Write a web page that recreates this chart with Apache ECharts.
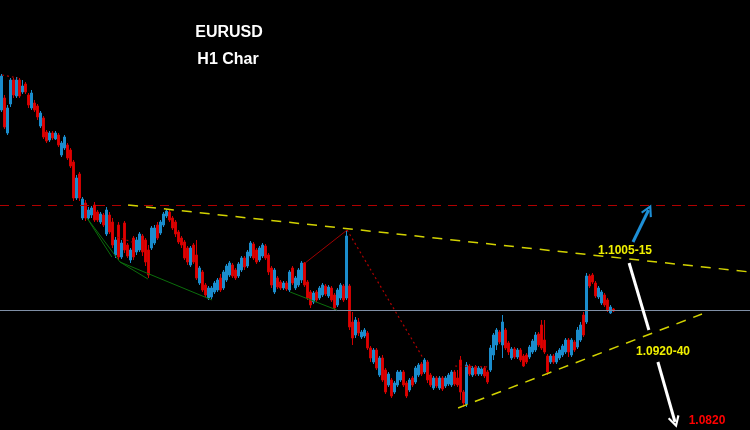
<!DOCTYPE html>
<html>
<head>
<meta charset="utf-8">
<script src="https://cdn.jsdelivr.net/npm/echarts@6/dist/echarts.min.js"></script>
<style>
html,body{margin:0;padding:0;background:#000;}
#chart{width:750px;height:430px;}
</style>
</head>
<body>
<div id="chart"></div>
<script>
// EURUSD H1 candles (price)
const openP = [1.1150,1.1162,1.1127,1.1156,1.1180,1.1164,1.1180,1.1168,1.1176,1.1165,
1.1152,1.1157,1.1154,1.1134,1.1142,1.1128,1.1120,1.1127,1.1121,1.1125,
1.1105,1.1112,1.1115,1.1110,1.1098,1.1062,1.1086,1.1042,1.1057,1.1042,
1.1045,1.1055,1.1048,1.1038,1.1045,1.1026,1.1045,1.1038,1.1005,1.1035,
1.1003,1.1037,1.1015,1.1000,1.1022,1.1008,1.1010,1.1024,1.1020,1.1010,
1.1012,1.1017,1.1035,1.1027,1.1035,1.1044,1.1048,1.1042,1.1038,1.1028,
1.1022,1.1018,1.1012,1.0995,1.1015,1.1005,1.0977,1.0988,1.0975,1.0962,
1.0963,1.0968,1.0970,1.0982,1.0972,1.0980,1.0985,1.0995,1.0990,1.0984,
1.0990,1.1002,1.0994,1.1004,1.1016,1.1010,1.1000,1.1004,1.1014,1.1005,
1.0992,1.0968,1.0982,1.0978,1.0972,1.0977,1.0970,1.0992,1.0972,1.0975,
1.0980,1.0997,1.0978,1.0968,1.0958,1.0968,1.0962,1.0965,1.0974,1.0964,
1.0972,1.0965,1.0955,1.0962,1.0974,1.0962,1.0974,1.0938,1.0925,1.0938,
1.0923,1.0924,1.0927,1.0912,1.0898,1.0910,1.0885,1.0902,1.0890,1.0875,
1.0880,1.0868,1.0875,1.0880,1.0888,1.0877,1.0870,1.0882,1.0878,1.0885,
1.0896,1.0888,1.0898,1.0885,1.0872,1.0882,1.0872,1.0882,1.0874,1.0876,
1.0875,1.0888,1.0882,1.0900,1.0868,1.0856,1.0894,1.0885,1.0893,1.0886,
1.0886,1.0892,1.0888,1.0890,1.0905,1.0915,1.0928,1.0915,1.0930,1.0917,
1.0902,1.0911,1.0903,1.0910,1.0904,1.0905,1.0903,1.0908,1.0910,1.0926,
1.0935,1.0920,1.0904,1.0898,1.0904,1.0898,1.0902,1.0905,1.0908,1.0920,
1.0905,1.0918,1.0913,1.0920,1.0945,1.0938,1.0984,1.0985,1.0977,1.0963,
1.0957,1.0965,1.0960,1.0947,1.0951];

const closeP = [1.1184,1.1133,1.1152,1.1180,1.1165,1.1180,1.1164,1.1174,1.1168,1.1155,
1.1167,1.1150,1.1143,1.1147,1.1123,1.1119,1.1127,1.1122,1.1127,1.1115,
1.1117,1.1123,1.1102,1.1094,1.1062,1.1082,1.1062,1.1061,1.1042,1.1050,
1.1052,1.1040,1.1040,1.1046,1.1035,1.1050,1.1028,1.1015,1.1020,1.1003,
1.1017,1.1010,1.1004,1.1010,1.1003,1.1020,1.1026,1.1008,1.0998,1.0985,
1.1032,1.1032,1.1022,1.1038,1.1046,1.1049,1.1040,1.1032,1.1026,1.1018,
1.1015,1.1002,1.0998,1.1012,1.0998,1.0982,1.0992,1.0970,1.0965,1.0972,
1.0972,1.0977,1.0980,1.0970,1.0988,1.0994,1.0997,1.0984,1.0982,1.0996,
1.1002,1.0993,1.1008,1.1017,1.1002,1.0998,1.1012,1.1015,1.1002,1.0988,
1.0975,1.0990,1.0973,1.0972,1.0977,1.0971,1.0988,1.0977,1.0982,1.0990,
1.0997,1.0975,1.0962,1.0955,1.0967,1.0960,1.0972,1.0975,1.0966,1.0973,
1.0960,1.0952,1.0970,1.0975,1.0960,1.1024,1.0933,1.0922,1.0940,1.0927,
1.0928,1.0930,1.0912,1.0902,1.0910,1.0892,1.0902,1.0880,1.0868,1.0886,
1.0864,1.0877,1.0888,1.0888,1.0875,1.0864,1.0880,1.0875,1.0892,1.0895,
1.0886,1.0900,1.0880,1.0875,1.0882,1.0874,1.0882,1.0871,1.0882,1.0885,
1.0888,1.0876,1.0875,1.0868,1.0857,1.0895,1.0886,1.0892,1.0886,1.0892,
1.0891,1.0884,1.0878,1.0912,1.0925,1.0930,1.0918,1.0938,1.0912,1.0908,
1.0911,1.0903,1.0910,1.0900,1.0894,1.0898,1.0913,1.0919,1.0925,1.0915,
1.0912,1.0908,1.0888,1.0904,1.0898,1.0907,1.0910,1.0914,1.0920,1.0908,
1.0920,1.0910,1.0930,1.0935,1.0925,1.0984,1.0974,1.0978,1.0964,1.0972,
1.0968,1.0955,1.0950,1.0953,1.0949];

const lowP = [1.1148,1.1131,1.1125,1.1153,1.1162,1.1162,1.1162,1.1166,1.1166,1.1152,
1.1150,1.1148,1.1140,1.1132,1.1121,1.1117,1.1118,1.1120,1.1120,1.1113,
1.1103,1.1110,1.1100,1.1092,1.1059,1.1060,1.1059,1.1040,1.1039,1.1040,
1.1042,1.1038,1.1038,1.1036,1.1033,1.1024,1.1026,1.1012,1.1002,1.1000,
1.1001,1.1007,1.1002,1.0997,1.1000,1.1005,1.1008,1.1004,1.0994,1.0982,
1.1010,1.1015,1.1020,1.1025,1.1033,1.1042,1.1038,1.1030,1.1023,1.1016,
1.1012,1.1000,1.0995,1.0993,1.0996,1.0980,1.0975,1.0968,1.0963,1.0960,
1.0961,1.0966,1.0968,1.0968,1.0970,1.0978,1.0983,1.0982,1.0980,1.0982,
1.0988,1.0990,1.0992,1.1002,1.1000,1.0996,1.0998,1.1002,1.1000,1.0985,
1.0972,1.0966,1.0971,1.0970,1.0970,1.0969,1.0968,1.0975,1.0970,1.0973,
1.0977,1.0973,1.0960,1.0952,1.0956,1.0958,1.0960,1.0963,1.0964,1.0962,
1.0958,1.0950,1.0953,1.0960,1.0958,1.0960,1.0930,1.0915,1.0922,1.0924,
1.0921,1.0922,1.0910,1.0898,1.0896,1.0890,1.0883,1.0878,1.0866,1.0873,
1.0862,1.0866,1.0873,1.0878,1.0873,1.0862,1.0868,1.0873,1.0876,1.0883,
1.0884,1.0886,1.0877,1.0873,1.0870,1.0872,1.0870,1.0869,1.0872,1.0874,
1.0873,1.0874,1.0873,1.0860,1.0853,1.0853,1.0884,1.0883,1.0884,1.0884,
1.0884,1.0882,1.0876,1.0888,1.0900,1.0910,1.0916,1.0902,1.0910,1.0905,
1.0900,1.0901,1.0901,1.0898,1.0893,1.0896,1.0901,1.0906,1.0908,1.0913,
1.0910,1.0906,1.0885,1.0896,1.0896,1.0896,1.0900,1.0903,1.0906,1.0903,
1.0903,1.0908,1.0911,1.0918,1.0923,1.0936,1.0972,1.0976,1.0962,1.0961,
1.0955,1.0953,1.0948,1.0946,1.0948];

const highP = [1.1186,1.1165,1.1155,1.1182,1.1182,1.1183,1.1182,1.1180,1.1178,1.1167,
1.1170,1.1160,1.1156,1.1149,1.1144,1.1130,1.1129,1.1129,1.1129,1.1127,
1.1119,1.1125,1.1117,1.1112,1.1100,1.1085,1.1088,1.1063,1.1060,1.1053,
1.1054,1.1058,1.1050,1.1048,1.1047,1.1053,1.1048,1.1042,1.1023,1.1038,
1.1020,1.1039,1.1017,1.1012,1.1024,1.1023,1.1028,1.1026,1.1022,1.1015,
1.1034,1.1035,1.1038,1.1040,1.1048,1.1051,1.1050,1.1044,1.1040,1.1030,
1.1024,1.1020,1.1014,1.1014,1.1017,1.1020,1.0994,1.0990,1.0977,1.0974,
1.0974,1.0979,1.0982,1.0986,1.0990,1.0996,1.0999,1.0997,1.0992,1.0998,
1.1004,1.1004,1.1010,1.1019,1.1018,1.1012,1.1014,1.1017,1.1016,1.1007,
1.0994,1.0992,1.0984,1.0980,1.0979,1.0979,1.0990,1.0994,1.0984,1.0992,
1.0999,1.0998,1.0980,1.0970,1.0969,1.0970,1.0974,1.0977,1.0976,1.0975,
1.0974,1.0967,1.0972,1.0977,1.0976,1.1030,1.0976,1.0948,1.0943,1.0942,
1.0930,1.0932,1.0929,1.0914,1.0912,1.0912,1.0904,1.0905,1.0892,1.0888,
1.0882,1.0879,1.0890,1.0890,1.0890,1.0879,1.0882,1.0884,1.0894,1.0897,
1.0898,1.0902,1.0900,1.0887,1.0884,1.0884,1.0884,1.0884,1.0884,1.0887,
1.0890,1.0890,1.0890,1.0904,1.0870,1.0898,1.0896,1.0894,1.0895,1.0894,
1.0893,1.0894,1.0890,1.0915,1.0927,1.0932,1.0930,1.0945,1.0932,1.0919,
1.0913,1.0913,1.0912,1.0912,1.0906,1.0907,1.0915,1.0921,1.0928,1.0928,
1.0940,1.0940,1.0906,1.0906,1.0906,1.0909,1.0912,1.0916,1.0922,1.0922,
1.0922,1.0920,1.0933,1.0938,1.0948,1.0987,1.0986,1.0987,1.0979,1.0974,
1.0970,1.0967,1.0962,1.0955,1.0952];

const barSlots = 250; // chart has empty space to the right of the last bar

// Drawn levels and trendlines: [barPosition, price]
const resistanceLevel = 1.1055;
const pivotLevel = 1.0950;
const upperTrend = [[42.7, 1.1055], [250, 1.0988]];
const lowerTrend = [[152.7, 1.0852], [234, 1.0946]];
const greenLines = [
  [[29, 1.1042], [37.3, 1.1003]],
  [[29, 1.1042], [40, 1.0998]],
  [[40, 1.0998], [49.3, 1.0981]],
  [[40, 1.0998], [70.7, 1.0960]],
  [[96.7, 1.0968], [112.3, 1.0950]]
];
const redSolid = [[101.7, 1.0997], [115.7, 1.1030]];
const redDotted = [
  [[115.7, 1.1030], [141, 1.0902]],
  [[0.7, 1.1185], [6, 1.1182]],
  [[39, 1.1023], [45, 1.1017]],
  [[151.7, 1.0894], [163.3, 1.0893]]
];
const blueArrow = [[211, 1.1018], [216.2, 1.1050]];
const whiteLine = [[209.7, 1.0997], [216.3, 1.0930]];
const whiteArrow = [[219.3, 1.0898], [225, 1.0838]];

const titleTexts = ['EURUSD', 'H1 Char'];
const levelTexts = ['1.1005-15', '1.0920-40', '1.0820'];

const categories = [];
for (let i = 0; i < barSlots; i++) categories.push('H' + (i + 1));
const candles = openP.map((o, i) => [o, closeP[i], lowP[i], highP[i]]);

const chevron = 'path://M0,0 L6,9 L4.2,10 L0,3.6 L-4.2,10 L-6,9 Z';

function seg(coords, color, width, type, symbol) {
  return {
    type: 'lines', coordinateSystem: 'cartesian2d', xAxisIndex: 1, yAxisIndex: 0,
    silent: true, polyline: false, z: 5,
    symbol: symbol || ['none', 'none'], symbolSize: [13, 12],
    lineStyle: { color: color, width: width, type: type || 'solid', opacity: 1 },
    data: coords.map(c => ({ coords: c }))
  };
}

const chart = echarts.init(document.getElementById('chart'));
chart.setOption({
  backgroundColor: '#000000',
  animation: false,
  grid: { left: 0, right: 0, top: 0, bottom: 0 },
  xAxis: [
    { type: 'category', data: categories, boundaryGap: true, show: false },
    { type: 'value', min: 0, max: barSlots, show: false }
  ],
  yAxis: [{ type: 'value', min: 1.0830, max: 1.1260, show: false, splitLine: { show: false } }],
  series: [
    seg([[[0, resistanceLevel], [barSlots, resistanceLevel]]], '#b00000', 1, [9, 7]),
    seg([[[0, pivotLevel], [barSlots, pivotLevel]]], '#7f8fa6', 1, 'solid'),
    {
      type: 'candlestick', xAxisIndex: 0, yAxisIndex: 0, barWidth: 2, z: 3,
      itemStyle: { color: '#1a8ccc', color0: '#e00000', borderColor: '#1a8ccc', borderColor0: '#d00000', borderWidth: 1 },
      data: candles
    },
    seg(greenLines, '#0b6e0b', 1, 'solid'),
    seg([redSolid], '#a00000', 1, 'solid'),
    seg(redDotted, '#b00000', 1.2, [2, 3]),
    seg([upperTrend], '#d2d200', 1.5, [10, 8]),
    seg([lowerTrend], '#d2d200', 1.5, [10, 8]),
    seg([blueArrow], '#1d8fd6', 3, 'solid', ['none', chevron]),
    seg([whiteLine], '#ffffff', 3, 'solid'),
    seg([whiteArrow], '#ffffff', 3, 'solid', ['none', chevron])
  ],
  graphic: [
    { type: 'text', x: 229, y: 33, z: 10, style: { text: titleTexts[0], fill: '#ffffff', font: 'bold 16px "Liberation Sans", Arial, sans-serif', textAlign: 'center', textVerticalAlign: 'middle' } },
    { type: 'text', x: 228, y: 60, z: 10, style: { text: titleTexts[1], fill: '#ffffff', font: 'bold 16px "Liberation Sans", Arial, sans-serif', textAlign: 'center', textVerticalAlign: 'middle' } },
    { type: 'text', x: 625, y: 251, z: 10, style: { text: levelTexts[0], fill: '#f0f000', font: 'bold 12px "Liberation Sans", Arial, sans-serif', textAlign: 'center', textVerticalAlign: 'middle' } },
    { type: 'text', x: 663, y: 352, z: 10, style: { text: levelTexts[1], fill: '#f0f000', font: 'bold 12px "Liberation Sans", Arial, sans-serif', textAlign: 'center', textVerticalAlign: 'middle' } },
    { type: 'text', x: 707, y: 421, z: 10, style: { text: levelTexts[2], fill: '#ff0000', font: 'bold 12px "Liberation Sans", Arial, sans-serif', textAlign: 'center', textVerticalAlign: 'middle' } }
  ]
});
</script>
</body>
</html>
